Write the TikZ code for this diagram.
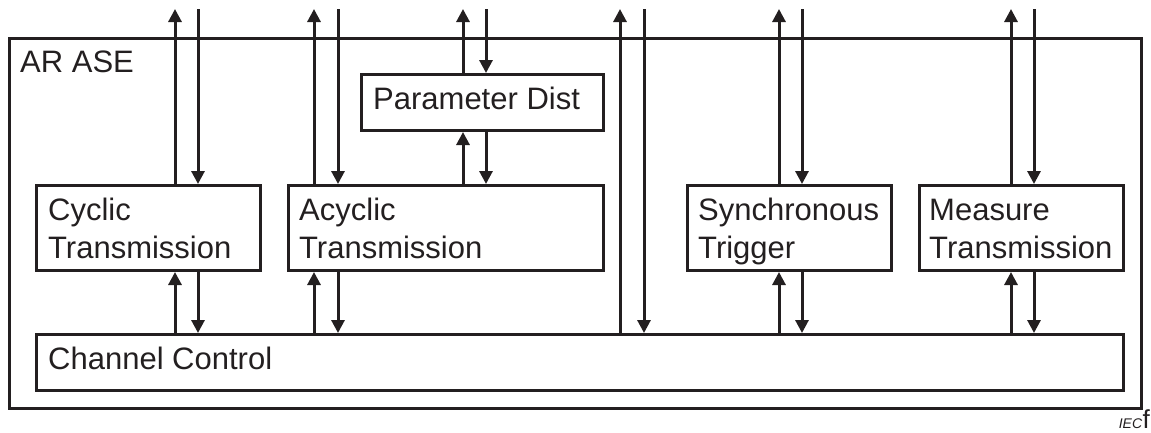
\documentclass[tikz,border=0pt]{standalone}
\usepackage{fontspec}
\setmainfont{Liberation Sans}
\usetikzlibrary{arrows.meta,calc}
\definecolor{ink}{RGB}{35,31,32}
\begin{document}
\begin{tikzpicture}[x=1pt,y=-1pt,
  box/.style={draw=ink,line width=3pt,inner sep=0pt,anchor=north west},
  lbl/.style={anchor=base west,align=left,inner sep=0pt,text=ink,font=\fontsize{31}{38}\selectfont},
  arr/.style={draw=ink,line width=3pt,-{Triangle[length=13pt,width=13pt]}}]
\useasboundingbox (0,0) rectangle (1151,432);
% outer box
\node[box,minimum width=1132pt,minimum height=370pt] (ase) at (8,37) {};
\node[lbl] (asel) at (20,72) {AR ASE};
% inner boxes
\node[box,minimum width=242pt,minimum height=56pt] (par) at (360,73) {};
\node[lbl] (parl) at (373,109) {Parameter Dist};
\node[box,minimum width=224pt,minimum height=85pt] (cyc) at (35,184) {};
\node[lbl] (cycl) at (48,258) {Cyclic\\Transmission};
\node[box,minimum width=315pt,minimum height=85pt] (acy) at (287,184) {};
\node[lbl] (acyl) at (299,258) {Acyclic\\Transmission};
\node[box,minimum width=204pt,minimum height=85pt] (syn) at (686,184) {};
\node[lbl] (synl) at (698,258) {Synchronous\\Trigger};
\node[box,minimum width=204pt,minimum height=85pt] (mea) at (918,184) {};
\node[lbl] (meal) at (929,258) {Measure\\Transmission};
\node[box,minimum width=1087pt,minimum height=56pt] (chan) at (35,333) {};
\node[lbl] (chanl) at (48,369) {Channel Control};
% top free ends
\coordinate (c1u) at (175,9);  \coordinate (c1d) at (198,9);
\coordinate (c2u) at (314,9);  \coordinate (c2d) at (338,9);
\coordinate (c3u) at (463,9);  \coordinate (c3d) at (486,9);
\coordinate (c4u) at (620,9);  \coordinate (c4d) at (644,9);
\coordinate (c5u) at (779,9);  \coordinate (c5d) at (802,9);
\coordinate (c6u) at (1011,9); \coordinate (c6d) at (1034,9);
% cyclic
\draw[arr] (cyc.north -| c1u) -- (c1u);
\draw[arr] (c1d) -- (cyc.north -| c1d);
\draw[arr] (chan.north -| c1u) -- (cyc.south -| c1u);
\draw[arr] (cyc.south -| c1d) -- (chan.north -| c1d);
% acyclic
\draw[arr] (acy.north -| c2u) -- (c2u);
\draw[arr] (c2d) -- (acy.north -| c2d);
\draw[arr] (chan.north -| c2u) -- (acy.south -| c2u);
\draw[arr] (acy.south -| c2d) -- (chan.north -| c2d);
% parameter dist
\draw[arr] (par.north -| c3u) -- (c3u);
\draw[arr] (c3d) -- (par.north -| c3d);
\draw[arr] (acy.north -| c3u) -- (par.south -| c3u);
\draw[arr] (par.south -| c3d) -- (acy.north -| c3d);
% channel direct
\draw[arr] (chan.north -| c4u) -- (c4u);
\draw[arr] (c4d) -- (chan.north -| c4d);
% synchronous
\draw[arr] (syn.north -| c5u) -- (c5u);
\draw[arr] (c5d) -- (syn.north -| c5d);
\draw[arr] (chan.north -| c5u) -- (syn.south -| c5u);
\draw[arr] (syn.south -| c5d) -- (chan.north -| c5d);
% measure
\draw[arr] (mea.north -| c6u) -- (c6u);
\draw[arr] (c6d) -- (mea.north -| c6d);
\draw[arr] (chan.north -| c6u) -- (mea.south -| c6u);
\draw[arr] (mea.south -| c6d) -- (chan.north -| c6d);
% footer
\node[anchor=base east,inner sep=0pt,text=ink,font=\fontsize{26}{28}\selectfont] (fig) at (1150,428) {f};
\node[anchor=base east,inner sep=0pt,text=ink,font=\fontsize{14}{15}\itshape] (iec) at (fig.base west) {IEC};
\end{tikzpicture}
\end{document}
